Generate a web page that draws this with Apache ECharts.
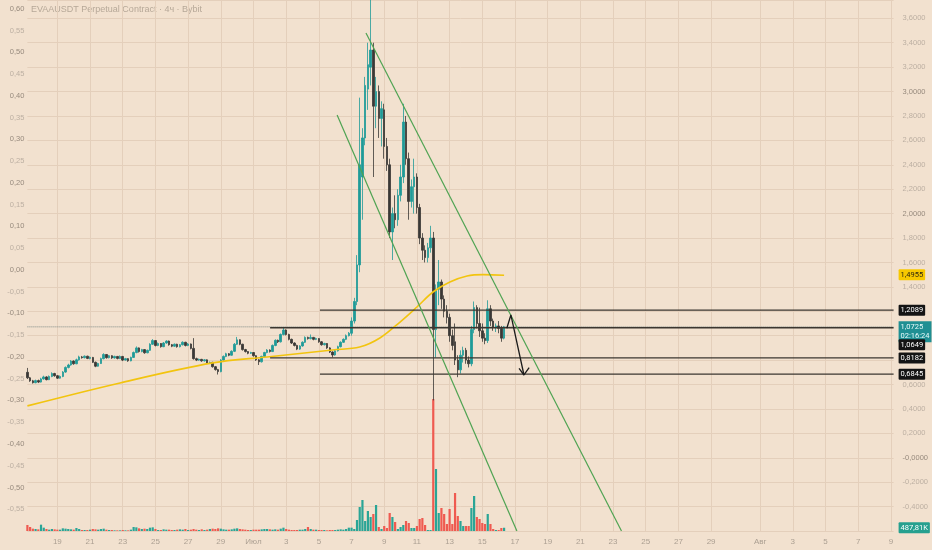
<!DOCTYPE html>
<html>
<head>
<meta charset="utf-8">
<title>EVAAUSDT 4ч</title>
<script src="https://cdn.jsdelivr.net/npm/echarts@6.0.0/dist/echarts.min.js"></script>
<style>
html, body { margin: 0; padding: 0; background: #f2e1cf; }
#chart { width: 932px; height: 550px; }
</style>
</head>
<body>
<div id="chart"></div>
<script>
// шкала времени: 4ч свечи с 17 июня 04:00
var startTime = Date.UTC(2025, 5, 17, 4);
var slotCount = 319;
var monthNames = ['Янв','Фев','Мар','Апр','Май','Июн','Июл','Авг','Сен','Окт','Ноя','Дек'];
var titleText = 'EVAAUSDT Perpetual Contract · 4ч · Bybit';
var countdown = '02:16:24';

var categories = [];
for (var s = 0; s < slotCount; s++) {
    categories.push(String(startTime + s * 4 * 3600 * 1000));
}

// свечи [open, close, low, high]
var ohlc = [
    [0.700,0.655,0.645,0.736],[0.655,0.630,0.622,0.662],[0.630,0.615,0.608,0.638],[0.615,0.632,0.610,0.640],[0.632,0.620,0.612,0.640],
    [0.620,0.646,0.616,0.655],[0.646,0.662,0.640,0.672],[0.662,0.640,0.634,0.668],[0.640,0.666,0.636,0.674],[0.666,0.690,0.660,0.700],
    [0.690,0.672,0.664,0.696],[0.672,0.652,0.646,0.678],[0.652,0.666,0.648,0.674],[0.666,0.702,0.660,0.710],[0.702,0.740,0.696,0.748],
    [0.740,0.760,0.732,0.770],[0.760,0.792,0.754,0.800],[0.792,0.770,0.762,0.798],[0.770,0.802,0.766,0.812],[0.802,0.826,0.796,0.836],
    [0.826,0.820,0.812,0.834],[0.820,0.832,0.814,0.838],[0.832,0.814,0.808,0.836],[0.814,0.822,0.806,0.830],[0.822,0.782,0.776,0.826],
    [0.782,0.750,0.742,0.788],[0.750,0.772,0.746,0.778],[0.772,0.812,0.768,0.820],[0.812,0.846,0.806,0.856],[0.846,0.820,0.812,0.850],
    [0.820,0.836,0.814,0.842],[0.836,0.818,0.810,0.840],[0.818,0.830,0.812,0.836],[0.830,0.814,0.806,0.834],[0.814,0.830,0.808,0.838],
    [0.830,0.800,0.792,0.834],[0.800,0.812,0.796,0.818],[0.812,0.794,0.786,0.816],[0.794,0.822,0.790,0.828],[0.822,0.862,0.818,0.870],
    [0.862,0.900,0.856,0.912],[0.900,0.870,0.862,0.904],[0.870,0.886,0.864,0.892],[0.886,0.860,0.852,0.890],[0.860,0.880,0.856,0.886],
    [0.880,0.930,0.876,0.938],[0.930,0.960,0.924,0.972],[0.960,0.920,0.912,0.964],[0.920,0.936,0.914,0.944],[0.936,0.910,0.902,0.940],
    [0.910,0.940,0.906,0.948],[0.940,0.956,0.934,0.962],[0.956,0.926,0.918,0.960],[0.926,0.914,0.906,0.932],[0.914,0.930,0.908,0.936],
    [0.930,0.910,0.902,0.934],[0.910,0.926,0.904,0.932],[0.926,0.946,0.920,0.954],[0.946,0.920,0.912,0.950],[0.920,0.932,0.914,0.940],
    [0.932,0.896,0.888,0.936],[0.896,0.812,0.804,0.980],[0.812,0.800,0.792,0.820],[0.800,0.806,0.794,0.812],[0.806,0.794,0.786,0.810],
    [0.794,0.802,0.788,0.808],[0.802,0.776,0.768,0.806],[0.776,0.782,0.770,0.788],[0.782,0.746,0.738,0.786],[0.746,0.722,0.714,0.752],
    [0.722,0.706,0.682,0.728],[0.706,0.800,0.700,0.808],[0.800,0.830,0.794,0.838],[0.830,0.852,0.824,0.860],[0.852,0.840,0.832,0.858],
    [0.840,0.872,0.836,0.880],[0.872,0.930,0.866,0.940],[0.930,0.966,0.924,0.990],[0.966,0.930,0.922,0.970],[0.930,0.886,0.878,0.934],
    [0.886,0.870,0.862,0.892],[0.870,0.856,0.848,0.874],[0.856,0.862,0.850,0.868],[0.862,0.836,0.828,0.866],[0.836,0.802,0.794,0.840],
    [0.802,0.786,0.760,0.808],[0.786,0.830,0.780,0.836],[0.830,0.862,0.824,0.868],[0.862,0.882,0.856,0.890],[0.882,0.870,0.862,0.888],
    [0.870,0.920,0.866,0.928],[0.920,0.962,0.914,0.970],[0.962,0.950,0.940,0.968],[0.950,1.010,0.944,1.018],[1.010,1.046,1.002,1.066],
    [1.046,1.010,1.002,1.052],[1.010,0.970,0.962,1.016],[0.970,0.940,0.932,0.976],[0.940,0.920,0.912,0.946],[0.920,0.890,0.882,0.926],
    [0.890,0.916,0.884,0.922],[0.916,0.946,0.910,0.954],[0.946,0.986,0.940,0.994],[0.986,0.976,0.968,0.992],[0.976,0.986,0.970,1.010],
    [0.986,0.970,0.962,0.990],[0.970,0.976,0.964,0.984],[0.976,0.950,0.942,0.980],[0.950,0.926,0.918,0.956],[0.926,0.936,0.920,0.942],
    [0.936,0.900,0.892,0.940],[0.900,0.866,0.858,0.906],[0.866,0.842,0.822,0.872],[0.842,0.876,0.836,0.882],[0.876,0.910,0.870,0.918],
    [0.910,0.946,0.904,0.954],[0.946,0.970,0.940,0.978],[0.970,1.000,0.964,1.010],[1.000,1.020,0.994,1.030],
    [1.02,1.12,1.00,1.15],[1.12,1.28,1.10,1.31],[1.28,1.58,1.25,1.66],[1.58,2.40,1.52,2.95],[2.30,2.62,1.95,2.70],
    [2.62,3.05,2.56,3.12],[3.02,3.22,2.85,3.40],[3.20,3.34,3.05,3.90],[3.34,2.88,2.30,3.40],[2.88,3.00,2.70,3.12],
    [3.00,2.78,2.62,3.05],[2.78,2.86,2.55,2.92],[2.85,2.55,2.45,2.90],[2.55,2.40,2.35,2.62],[2.40,1.85,1.80,2.45],
    [1.85,2.00,1.62,2.05],[2.00,1.95,1.88,2.15],[1.95,2.15,1.90,2.20],[2.15,2.30,2.10,2.40],[2.30,2.75,2.25,2.90],
    [2.75,2.45,2.40,2.80],[2.45,2.10,1.95,2.50],[2.10,2.22,2.05,2.28],[2.22,2.30,2.00,2.45],[2.30,2.05,2.00,2.33],
    [2.05,1.80,1.75,2.08],[1.80,1.70,1.62,1.84],[1.70,1.64,1.60,1.74],[1.64,1.72,1.60,1.76],[1.72,1.80,1.68,1.90],
    [1.80,1.05,0.47,1.85],[1.05,1.38,0.82,1.42],[1.38,1.44,1.25,1.62],[1.44,1.30,1.22,1.46],[1.30,1.20,1.15,1.33],
    [1.20,1.15,1.10,1.25],[1.15,1.00,0.95,1.18],[1.00,0.92,0.88,1.05],[0.95,0.80,0.76,1.10],[0.80,0.72,0.66,0.84],
    [0.72,0.84,0.69,0.88],[0.84,0.88,0.78,0.91],[0.88,0.80,0.77,0.90],[0.80,0.77,0.74,0.83],[0.77,1.05,0.75,1.08],
    [1.05,1.23,1.02,1.28],[1.23,1.10,1.06,1.25],[1.10,1.04,0.99,1.23],[1.04,0.98,0.95,1.10],[0.98,0.96,0.93,1.02],
    [0.96,1.22,0.94,1.29],[1.22,1.12,1.08,1.25],[1.12,1.07,1.04,1.14],[1.07,1.08,1.03,1.10],[1.08,1.06,1.02,1.12],
    [1.06,0.98,0.95,1.08],[0.98,1.0725,0.97,1.08]
];

// объём, млн
var volumes = [
    0.9,0.6,0.35,0.3,0.25,0.95,0.5,0.3,0.2,0.3,
    0.25,0.2,0.2,0.4,0.35,0.3,0.25,0.2,0.45,0.3,
    0.15,0.15,0.15,0.2,0.3,0.25,0.2,0.3,0.35,0.2,
    0.15,0.15,0.1,0.1,0.1,0.15,0.1,0.1,0.2,0.6,
    0.55,0.4,0.3,0.35,0.3,0.5,0.55,0.3,0.15,0.15,
    0.25,0.2,0.2,0.15,0.15,0.2,0.25,0.2,0.3,0.15,
    0.2,0.3,0.2,0.15,0.25,0.15,0.2,0.3,0.35,0.3,
    0.4,0.35,0.25,0.2,0.2,0.25,0.35,0.4,0.3,0.25,
    0.2,0.15,0.15,0.2,0.2,0.2,0.25,0.3,0.3,0.25,
    0.2,0.25,0.2,0.35,0.5,0.3,0.2,0.15,0.15,0.15,
    0.2,0.2,0.3,0.6,0.3,0.2,0.2,0.15,0.15,0.15,
    0.1,0.15,0.15,0.15,0.2,0.25,0.2,0.3,0.5,
    0.5,0.3,1.65,3.6,4.65,1.5,3.0,2.1,2.55,3.9,0.6,
    0.3,0.75,0.45,2.7,2.1,1.35,0.3,0.6,0.9,1.5,
    1.2,0.45,0.45,0.75,1.8,1.95,0.9,0.15,0.15,19.8,
    9.3,2.7,3.45,2.55,1.05,3.3,1.05,5.7,2.25,1.5,
    0.75,0.75,0.75,3.45,5.25,2.1,1.8,1.2,1.05,2.55,
    1.05,0.3,0.15,0.15,0.45,0.48781
];

// скользящая средняя [индекс свечи, цена]
var maPoints = [[0,0.425],[34,0.613],[68,0.777],[88,0.826],[112,0.883],[122,0.907],[129.4,0.981],
    [136.8,1.112],[143,1.235],[148.9,1.358],[155.1,1.44],[161.4,1.489],[167.3,1.50],[175,1.4955]];

// горизонтальные уровни: [цена, от индекса]
var levels = [[1.2089,107.4],[1.0649,89.1],[0.8182,89.1],[0.6845,107.4]];

// наклонный канал
var channelUpper = [[124.3,3.48],[218.1,-0.6]];
var channelLower = [[113.7,2.807],[179.7,-0.6]];

// стрелка прогноза
var arrowPath = [[176.0,1.061],[177.5,1.170],[182.3,0.678]];
var arrowHead = [[180.5,0.733],[182.3,0.678],[184.2,0.738]];

var priceTicks = { min: -0.6, max: 3.75, step: 0.2 };
var pctTicks = { min: -0.6, max: 0.62, step: 0.05 };

// --- оформление ---
var upColor = '#1f9b98', downColor = '#3a3836';
var volUp = '#2aa596', volDown = '#ef5a50';
var gridColor = '#e4cfbb';
var fontFam = "'Liberation Sans', sans-serif";
var boxFont = "Roboto, 'Liberation Sans', sans-serif";
var lastIdx = slotCount - 1;

function fmt4(v) { return v.toFixed(4).replace('.', ','); }

function isLabelSlot(index, value) {
    var d = new Date(+value);
    var day = d.getUTCDate();
    return d.getUTCHours() === 0 && day % 2 === 1 && day !== 31;
}

function boxLabel(text, bg, fg, offsetY) {
    return {
        show: true,
        formatter: text,
        backgroundColor: bg,
        color: fg || '#ffffff',
        fontSize: 7.5,
        fontFamily: boxFont,
        padding: [2, 2, 1, 2],
        borderRadius: 1,
        distance: 5,
        offset: [0, offsetY || 0]
    };
}

var volumeData = volumes.map(function (v, i) {
    var c = ohlc[i];
    return { value: v, itemStyle: { color: c[1] >= c[0] ? volUp : volDown } };
});

var lastClose = ohlc[ohlc.length - 1][1];
var lastVolume = volumes[volumes.length - 1];
var lastMa = maPoints[maPoints.length - 1][1];

var series = [];

// пунктир текущей цены
series.push({
    type: 'line', xAxisIndex: 1, yAxisIndex: 0, z: 1, silent: true, symbol: 'none',
    data: [[0, lastClose], [lastIdx, lastClose]],
    lineStyle: { color: '#7f8a86', width: 1, type: 'dotted' },
    endLabel: {
        show: true,
        formatter: fmt4(lastClose) + '\n' + countdown,
        backgroundColor: '#1f8f93', color: '#e8fbfb', fontSize: 7.5, lineHeight: 9,
        fontFamily: boxFont, padding: [2, 2, 1, 2], distance: 5, offset: [0, 5]
    }
});

series.push({
    name: 'EVAAUSDT', type: 'candlestick', xAxisIndex: 0, yAxisIndex: 0, z: 2,
    clip: false, barWidth: 2, data: ohlc,
    itemStyle: { color: upColor, color0: downColor, borderColor: upColor, borderColor0: downColor, borderWidth: 0.8 }
});

series.push({
    name: 'MA', type: 'line', xAxisIndex: 1, yAxisIndex: 0, z: 3, silent: true, symbol: 'none',
    smooth: 0.35, data: maPoints,
    lineStyle: { color: '#f2c40f', width: 1.6 },
    markLine: {
        silent: true, symbol: 'none',
        lineStyle: { width: 0, color: 'rgba(0,0,0,0)' },
        label: Object.assign(boxLabel(fmt4(lastMa), '#f7c800', '#2b2410'), { position: 'end' }),
        data: [{ yAxis: lastMa }]
    }
});

levels.forEach(function (lv, k) {
    series.push({
        type: 'line', xAxisIndex: 1, yAxisIndex: 0, z: 4, silent: true, symbol: 'none',
        data: [[lv[1], lv[0]], [lastIdx, lv[0]]],
        lineStyle: { color: '#3b3630', width: 1.3 },
        endLabel: boxLabel(fmt4(lv[0]), '#141414', '#ffffff', k === 1 ? 17 : 0)
    });
});

[channelUpper, channelLower].forEach(function (pts) {
    series.push({
        type: 'line', xAxisIndex: 1, yAxisIndex: 0, z: 5, silent: true, symbol: 'none',
        data: pts, lineStyle: { color: '#4fa352', width: 1.2 }
    });
});

[arrowPath, arrowHead].forEach(function (pts) {
    series.push({
        type: 'line', xAxisIndex: 1, yAxisIndex: 0, z: 6, silent: true, symbol: 'none',
        data: pts, lineStyle: { color: '#1c1c1c', width: 1.3 }
    });
});

series.push({
    name: 'Volume', type: 'bar', xAxisIndex: 2, yAxisIndex: 2, z: 2, barWidth: 2.2,
    data: volumeData,
    markLine: {
        silent: true, symbol: 'none',
        lineStyle: { width: 0, color: 'rgba(0,0,0,0)' },
        label: Object.assign(boxLabel((lastVolume * 1000).toFixed(2).replace('.', ',') + 'K', '#26a08f', '#ffffff'), { position: 'end' }),
        data: [{ yAxis: lastVolume }]
    }
});

var option = {
    backgroundColor: '#f2e1cf',
    animation: false,
    graphic: [{
        type: 'text', left: 31, top: 5,
        style: { text: titleText, fill: '#b6a898', fontSize: 9, fontFamily: fontFam }
    }],
    grid: [
        { left: 27.4, right: 38.4, top: 0, bottom: 19 },
        { left: 27.4, right: 38.4, bottom: 19, height: 150 }
    ],
    xAxis: [
        {
            type: 'category', gridIndex: 0, data: categories, boundaryGap: false,
            axisLine: { show: false }, axisTick: { show: false },
            axisLabel: {
                interval: isLabelSlot, color: '#ab9f92', fontSize: 8, fontFamily: fontFam, margin: 7,
                formatter: function (value) {
                    var d = new Date(+value);
                    return d.getUTCDate() === 1 ? monthNames[d.getUTCMonth()] : String(d.getUTCDate());
                }
            },
            splitLine: { show: true, interval: isLabelSlot, lineStyle: { color: gridColor, width: 1 } }
        },
        { type: 'value', gridIndex: 0, min: 0, max: lastIdx, show: false },
        { type: 'category', gridIndex: 1, data: categories, boundaryGap: false, show: false }
    ],
    yAxis: [
        {
            type: 'value', gridIndex: 0, position: 'right',
            min: priceTicks.min, max: priceTicks.max, interval: priceTicks.step,
            axisLine: { show: false }, axisTick: { show: false },
            axisLabel: {
                showMinLabel: false, showMaxLabel: false, margin: 9, fontSize: 7.5, fontFamily: fontFam,
                color: function (v) { return Math.abs(v - Math.round(v)) < 1e-6 ? '#978a7d' : '#bcafa2'; },
                formatter: function (v) { return Math.abs(v) < 1e-9 ? '-0,0000' : fmt4(v); }
            },
            splitLine: { show: true, lineStyle: { color: gridColor, width: 1 } }
        },
        {
            type: 'value', gridIndex: 0, position: 'left',
            min: pctTicks.min, max: pctTicks.max, interval: pctTicks.step,
            axisLine: { show: false }, axisTick: { show: false }, splitLine: { show: false },
            axisLabel: {
                showMinLabel: false, showMaxLabel: false, margin: 3, fontSize: 7.5, fontFamily: fontFam,
                color: function (v) { return Math.abs(v * 10 - Math.round(v * 10)) < 1e-6 ? '#978a7d' : '#bcafa2'; },
                formatter: function (v) { return v.toFixed(2).replace('.', ','); }
            }
        },
        { type: 'value', gridIndex: 1, min: 0, max: 22.5, show: false }
    ],
    series: series
};

var chart = echarts.init(document.getElementById('chart'));
chart.setOption(option);
</script>
</body>
</html>
